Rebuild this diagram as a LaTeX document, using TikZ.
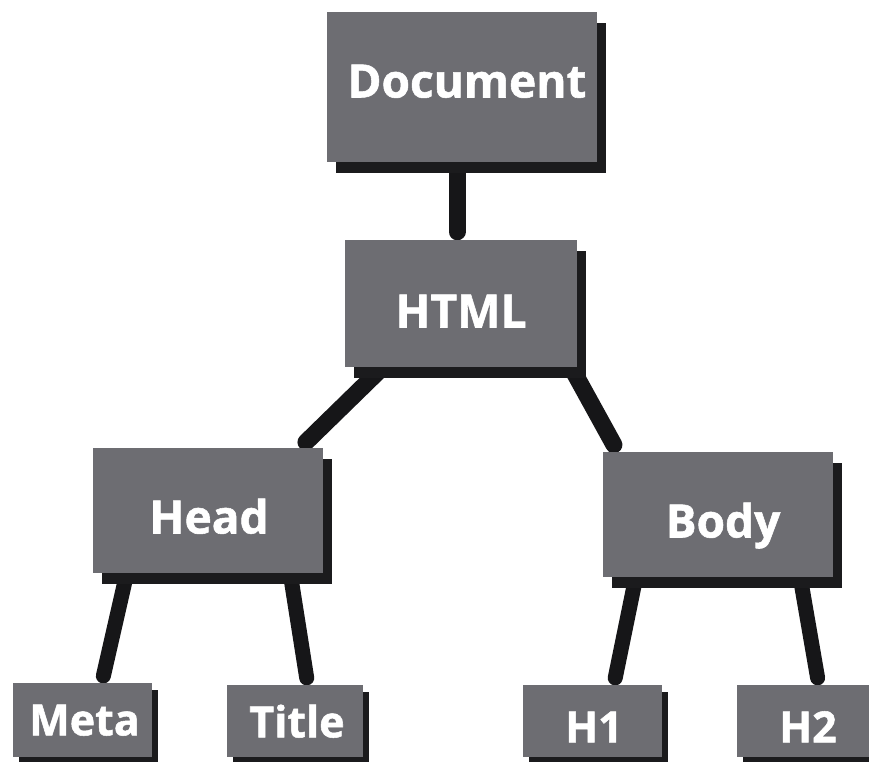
\documentclass[tikz,border=0pt]{standalone}
\usepackage{fontspec}
\setmainfont{Open Sans}
\newfontfamily\heavyfont{Open Sans}[BoldFeatures={FakeBold=1.2}]
\usetikzlibrary{shadows,backgrounds}
\definecolor{boxface}{HTML}{6D6D72}
\definecolor{boxshade}{HTML}{1B1B1D}
\definecolor{linkc}{HTML}{161618}
\tikzset{
  box/.style={rectangle, fill=boxface, inner sep=0pt},
  bigbox/.style={box, drop shadow={shadow xshift=9pt, shadow yshift=-11pt, fill=boxshade, opacity=1}},
  smallbox/.style={box, drop shadow={shadow xshift=6pt, shadow yshift=-7pt, fill=boxshade, opacity=1}},
  biglbl/.style={text=white, inner sep=0pt, font=\heavyfont\bfseries\fontsize{46pt}{50pt}\selectfont, text height=33pt, text depth=0pt},
  smalllbl/.style={text=white, inner sep=0pt, font=\heavyfont\bfseries\fontsize{43pt}{47pt}\selectfont, text height=30.7pt, text depth=0pt},
  biglink/.style={draw=linkc, line width=17pt, line cap=round, shorten >=8pt},
  smalllink/.style={draw=linkc, line width=15pt, line cap=round, shorten >=7pt}
}
\begin{document}
\begin{tikzpicture}[x=1pt, y=-1pt]
  \useasboundingbox (0,0) rectangle (869,762);
  \clip (0,0) rectangle (869,762);

  % tree boxes
  \node[bigbox, minimum width=270pt, minimum height=150pt] (doc) at (462,87) {};
  \node[bigbox, minimum width=232pt, minimum height=127pt] (html) at (461,303.5) {};
  \node[bigbox, minimum width=230pt, minimum height=125pt] (head) at (208,510.5) {};
  \node[bigbox, minimum width=230pt, minimum height=125pt] (body) at (718,514.5) {};
  \node[smallbox, minimum width=139pt, minimum height=74pt] (meta) at (82.5,720) {};
  \node[smallbox, minimum width=136pt, minimum height=72pt] (title) at (295,721) {};
  \node[smallbox, minimum width=139pt, minimum height=72pt] (h1) at (592.5,721) {};
  \node[smallbox, minimum width=143pt, minimum height=72pt] (h2) at (808.5,721) {};

  % box captions
  \node[biglbl] (doc-t) at (467,81) {Document};
  \node[biglbl] (html-t) at (461,311) {HTML};
  \node[biglbl] (head-t) at (209,517) {Head};
  \node[biglbl] (body-t) at (723,521) {Body};
  \node[smalllbl] (meta-t) at (84.5,720) {Meta};
  \node[smalllbl] (title-t) at (297,722) {Title};
  \node[smalllbl] (h1-t) at (594,727) {H1};
  \node[smalllbl] (h2-t) at (808,727) {H2};

  % white page and connectors, behind the boxes
  \begin{pgfonlayer}{background}
    \fill[white] (0,0) rectangle (869,762);
    \draw[biglink] ([xshift=-5pt]doc.south) -- ([xshift=-4pt]html.north);
    \draw[biglink] ([xshift=38pt]html.south west) -- ([xshift=-23pt]head.north east);
    \draw[biglink] ([xshift=-6pt]html.south east) -- ([xshift=15pt]body.north west);
    \draw[smalllink] ([xshift=34pt]head.south west) -- ([xshift=89pt]meta.north west);
    \draw[smalllink] ([xshift=-33pt]head.south east) -- ([xshift=81pt]title.north west);
    \draw[smalllink] ([xshift=33pt]body.south west) -- ([xshift=91pt]h1.north west);
    \draw[smalllink] ([xshift=-33pt]body.south east) -- ([xshift=82pt]h2.north west);
  \end{pgfonlayer}
\end{tikzpicture}
\end{document}
